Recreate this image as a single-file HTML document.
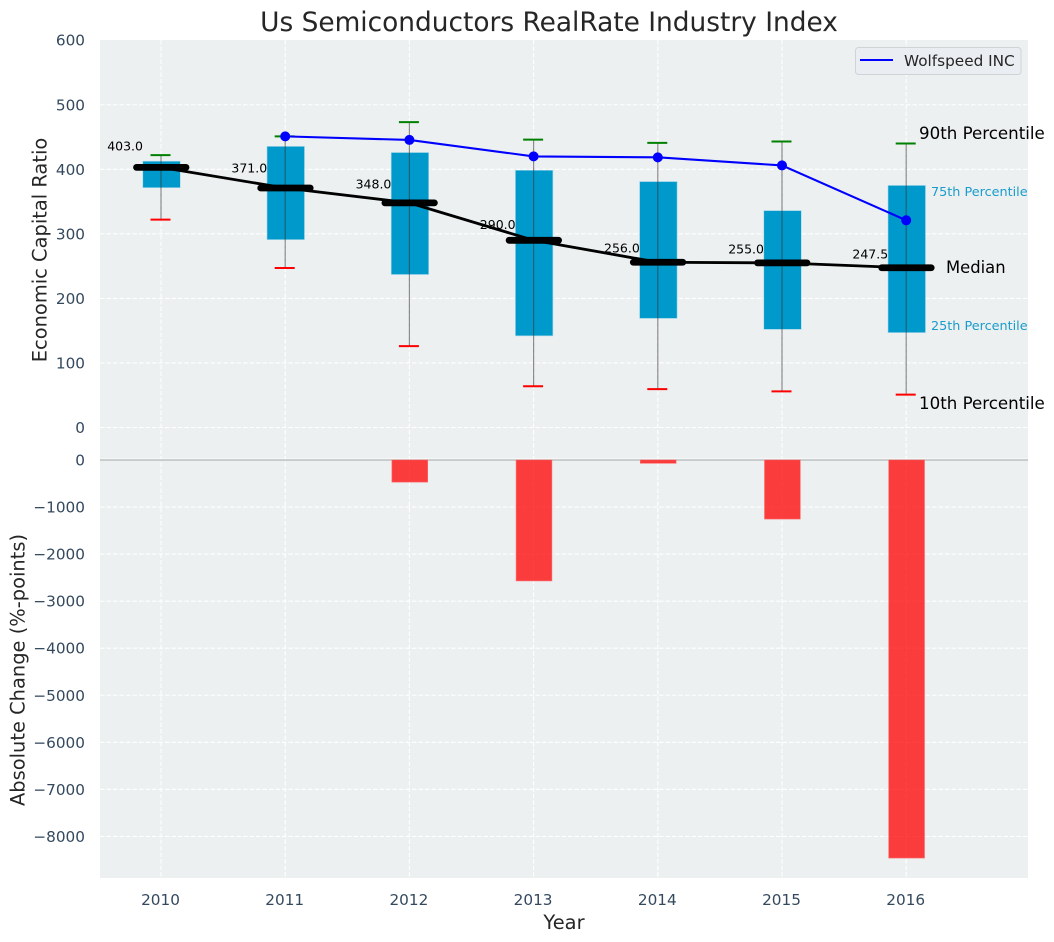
<!DOCTYPE html>
<html>
<head>
<meta charset="utf-8">
<title>Us Semiconductors RealRate Industry Index</title>
<style>
html,body{margin:0;padding:0;background:#fff;}
svg{display:block;font-family:"DejaVu Sans","Liberation Sans",sans-serif;}
</style>
</head>
<body>
<svg id="chart" width="1054" height="942" viewBox="0 0 1054 942" xmlns="http://www.w3.org/2000/svg">
  <rect x="100" y="40" width="928" height="419" fill="#ecf0f1"/>
  <rect x="100" y="460" width="928" height="418" fill="#ecf0f1"/>
  <g id="grid"></g>
  <g id="bars"></g>
  <g id="boxes"></g>
  <g id="lines"></g>
  <g id="ticks"></g>
  <text x="549" y="31" text-anchor="middle" font-size="26.4" fill="#262626">Us Semiconductors RealRate Industry Index</text>
  <text transform="translate(46.5,250) rotate(-90)" text-anchor="middle" font-size="19.44" fill="#262626">Economic Capital Ratio</text>
  <text transform="translate(24.5,670) rotate(-90)" text-anchor="middle" font-size="19.44" fill="#262626">Absolute Change (%-points)</text>
  <text x="564" y="929" text-anchor="middle" font-size="19.44" fill="#262626">Year</text>
  <text x="919" y="139" font-size="16.67" fill="#000">90th Percentile</text>
  <text x="931" y="196" font-size="12.8" fill="#1a9ccb">75th Percentile</text>
  <text x="946" y="273" font-size="16.4" fill="#000">Median</text>
  <text x="931" y="330" font-size="12.8" fill="#1a9ccb">25th Percentile</text>
  <text x="919" y="409" font-size="16.67" fill="#000">10th Percentile</text>
  <g>
    <rect x="855.5" y="47.5" width="165.5" height="27" rx="3" fill="#eaeef2" stroke="#d0d3d6" stroke-width="1"/>
    <line x1="860" x2="893" y1="60" y2="60" stroke="#0000ff" stroke-width="2"/>
    <text x="904" y="66" font-size="15.28" fill="#262626">Wolfspeed INC</text>
  </g>
</svg>
<script>
var years = [2010, 2011, 2012, 2013, 2014, 2015, 2016];
var p90 = [422, 451, 473, 446, 441, 443, 440];
var p75 = [412.5, 435.5, 426, 398.5, 381, 336, 375];
var medians = [403, 371, 348, 290, 256, 255, 247.5];
var p25 = [371.5, 291, 237, 142, 169, 152, 147];
var p10 = [322, 247, 126, 64, 59.5, 56, 51];
var wolfspeedYears = [2011, 2012, 2013, 2014, 2015, 2016];
var wolfspeed = [451, 445.5, 420, 418.5, 406, 321];
var changes = [0, 0, -470, -2570, -70, -1255, -8460];
var topTicks = [0, 100, 200, 300, 400, 500, 600];
var bottomTicks = [0, -1000, -2000, -3000, -4000, -5000, -6000, -7000, -8000];

var NS = 'http://www.w3.org/2000/svg';
function xScale(y){ return 161 + (y - 2010) * 124.2; }
function yTop(v){ return 427.5 - v * 0.6455; }
function yBottom(v){ return 460 - v * 0.04705; }
function add(parent, tag, attrs, text){
  var el = document.createElementNS(NS, tag);
  for (var k in attrs) el.setAttribute(k, attrs[k]);
  if (text !== undefined) el.textContent = text;
  document.getElementById(parent).appendChild(el);
  return el;
}
var el;
var dash = '4.5 2';

/* gridlines */
years.forEach(function(y){
  el = add('grid', 'line', {x1:xScale(y), x2:xScale(y), y1:40, y2:878, stroke:'#ffffff', 'stroke-width':1.1, 'stroke-dasharray':dash});
  
  
});
topTicks.forEach(function(t){
  if (t === 600) return;
  el = add('grid', 'line', {x1:100, x2:1028, y1:yTop(t), y2:yTop(t), stroke:'#ffffff', 'stroke-width':1.1, 'stroke-dasharray':dash});
  
  
});
bottomTicks.forEach(function(t){
  if (t === 0) return;
  el = add('grid', 'line', {x1:100, x2:1028, y1:yBottom(t), y2:yBottom(t), stroke:'#ffffff', 'stroke-width':1.1, 'stroke-dasharray':dash});
  
  
});
el = add('grid', 'line', {x1:100, x2:1028, y1:459, y2:459, stroke:'#ffffff', 'stroke-width':1});


el = add('grid', 'line', {x1:100, x2:1028, y1:yBottom(0), y2:yBottom(0), stroke:'#bcbfc1', 'stroke-width':1.4});



/* change bars */
years.forEach(function(y, i){
  if (changes[i] === 0) return;
  el = add('bars', 'rect', {x:xScale(y) - 17.5, y:yBottom(0), width:35.8, height:yBottom(changes[i]) - yBottom(0), fill:'#ff0000', 'fill-opacity':0.75, stroke:'#ff6a6a', 'stroke-width':0.6});
  
  
});

/* boxes, whiskers and caps */
years.forEach(function(y, i){
  var cx = xScale(y);
  el = add('boxes', 'rect', {x:cx - 18.2, y:yTop(p75[i]), width:37.5, height:yTop(p25[i]) - yTop(p75[i]), fill:'#0099cc', stroke:'#a8d8e8', 'stroke-width':0.6});
  
  
  el = add('boxes', 'line', {x1:cx, x2:cx, y1:yTop(p90[i]), y2:yTop(p10[i]), stroke:'#333333', 'stroke-opacity':0.55, 'stroke-width':1.2});
  
  
  el = add('boxes', 'line', {x1:cx - 10.5, x2:cx + 9.5, y1:yTop(p90[i]), y2:yTop(p90[i]), stroke:'#008000', 'stroke-width':2});
  
  
  el = add('boxes', 'line', {x1:cx - 10.5, x2:cx + 9.5, y1:yTop(p10[i]), y2:yTop(p10[i]), stroke:'#ff0000', 'stroke-width':2});
  
  
});

/* median connecting line and thick markers */
var medianPts = years.map(function(y, i){ return xScale(y) + ',' + yTop(medians[i]); }).join(' ');
el = add('lines', 'polyline', {points:medianPts, fill:'none', stroke:'#000000', 'stroke-width':2.8});


years.forEach(function(y, i){
  var cx = xScale(y);
  el = add('lines', 'line', {x1:cx - 24.5, x2:cx + 25, y1:yTop(medians[i]), y2:yTop(medians[i]), stroke:'#000000', 'stroke-width':6.8, 'stroke-linecap':'round'});
  
  
  el = add('lines', 'text', {x:cx - 18, y:yTop(medians[i] * 1.08) + 3.7, 'text-anchor':'end', 'font-size':12.5, fill:'#000000'}, medians[i].toFixed(1));
  
  
});

/* Wolfspeed series */
var wolfPts = wolfspeedYears.map(function(y, i){ return xScale(y) + ',' + yTop(wolfspeed[i]); }).join(' ');
el = add('lines', 'polyline', {points:wolfPts, fill:'none', stroke:'#0000ff', 'stroke-width':2.1});


wolfspeedYears.forEach(function(y, i){
  el = add('lines', 'circle', {cx:xScale(y), cy:yTop(wolfspeed[i]), r:5, fill:'#0000ff'});
  
  
});

/* tick labels */
topTicks.forEach(function(t){
  el = add('ticks', 'text', {x:85, y:yTop(t) + 5.5, 'text-anchor':'end', 'font-size':15.28, fill:'#34495e'}, String(t));
  
  
});
bottomTicks.forEach(function(t){
  el = add('ticks', 'text', {x:85, y:yBottom(t) + 5.5, 'text-anchor':'end', 'font-size':15.28, fill:'#34495e'}, String(t).replace('-', '\u2212'));
  
  
});
years.forEach(function(y){
  el = add('ticks', 'text', {x:xScale(y) - 0.5, y:905, 'text-anchor':'middle', 'font-size':15.28, fill:'#34495e'}, String(y));
  
  
});
</script>
</body>
</html>
